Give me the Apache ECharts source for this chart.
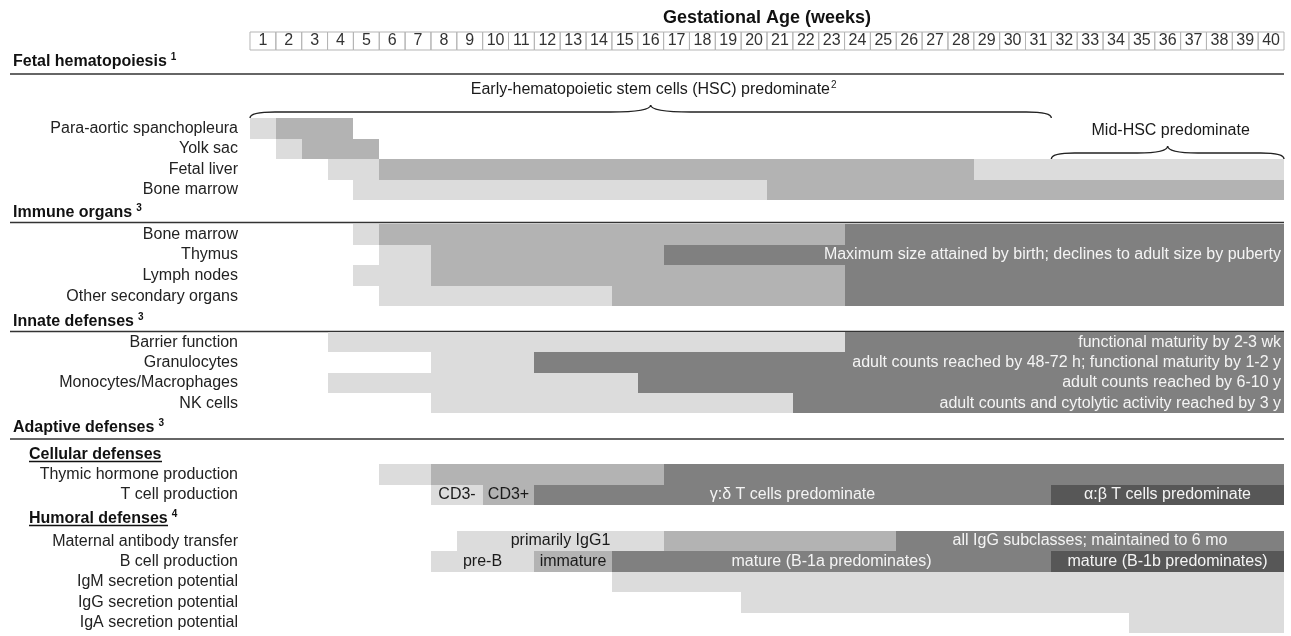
<!DOCTYPE html>
<html><head><meta charset="utf-8">
<script src="https://cdn.jsdelivr.net/npm/echarts@6/dist/echarts.min.js"></script>
<style>html,body{margin:0;padding:0;background:#fff}#c{width:1291px;height:636px}</style>
</head><body><div id="c"></div>
<script>
// ---------------- data ----------------
const weekLabels = ['1','2','3','4','5','6','7','8','9','10','11','12','13','14','15','16','17','18','19','20',
  '21','22','23','24','25','26','27','28','29','30','31','32','33','34','35','36','37','38','39','40'];

const fetalRows = [' ', '  ', 'Para-aortic spanchopleura', 'Yolk sac', 'Fetal liver', 'Bone marrow'];
const immuneRows = ['Bone marrow', 'Thymus', 'Lymph nodes', 'Other secondary organs'];
const innateRows = ['Barrier function', 'Granulocytes', 'Monocytes/Macrophages', 'NK cells'];
const cellularRows = ['Thymic hormone production', 'T cell production'];
const humoralRows = ['Maternal antibody transfer', 'B cell production', 'IgM secretion potential',
  'IgG secretion potential', 'IgA secretion potential'];

// [row, startWeek, endWeek, level(1 light .. 4 darkest), label]
const fetalSegs = [
  [2, 0, 1, 1, ''], [2, 1, 4, 2, ''],
  [3, 1, 2, 1, ''], [3, 2, 5, 2, ''],
  [4, 3, 5, 1, ''], [4, 5, 28, 2, ''], [4, 28, 40, 1, ''],
  [5, 4, 20, 1, ''], [5, 20, 40, 2, '']
];
const immuneSegs = [
  [0, 4, 5, 1, ''], [0, 5, 23, 2, ''], [0, 23, 40, 3, ''],
  [1, 5, 7, 1, ''], [1, 7, 16, 2, ''], [1, 16, 40, 3, ''],
  [2, 4, 7, 1, ''], [2, 7, 23, 2, ''], [2, 23, 40, 3, ''],
  [3, 5, 14, 1, ''], [3, 14, 23, 2, ''], [3, 23, 40, 3, '']
];
const innateSegs = [
  [0, 3, 23, 1, ''], [0, 23, 40, 3, ''],
  [1, 7, 11, 1, ''], [1, 11, 40, 3, ''],
  [2, 3, 15, 1, ''], [2, 15, 40, 3, ''],
  [3, 7, 21, 1, ''], [3, 21, 40, 3, '']
];
const cellularSegs = [
  [0, 5, 7, 1, ''], [0, 7, 16, 2, ''], [0, 16, 40, 3, ''],
  [1, 7, 9, 1, 'CD3-'], [1, 9, 11, 2, 'CD3+'], [1, 11, 31, 3, 'γ:δ T cells predominate'],
  [1, 31, 40, 4, 'α:β T cells predominate']
];
const humoralSegs = [
  [0, 8, 16, 1, 'primarily IgG1'], [0, 16, 25, 2, ''], [0, 25, 40, 3, 'all IgG subclasses; maintained to 6 mo'],
  [1, 7, 11, 1, 'pre-B'], [1, 11, 14, 2, 'immature'], [1, 14, 31, 3, 'mature (B-1a predominates)'],
  [1, 31, 40, 4, 'mature (B-1b predominates)'],
  [2, 14, 40, 1, ''], [3, 19, 40, 1, ''], [4, 34, 40, 1, '']
];

// notes written at the right end of a row: [row, text]
const immuneNotes = [[1, 'Maximum size attained by birth; declines to adult size by puberty']];
const innateNotes = [
  [0, 'functional maturity by 2-3 wk'],
  [1, 'adult counts reached by 48-72 h; functional maturity by 1-2 y'],
  [2, 'adult counts reached by 6-10 y'],
  [3, 'adult counts and cytolytic activity reached by 3 y']
];
// braces: [row, startWeek, endWeek, text, superscript]
const braces = [
  [1, 0, 31, 'Early-hematopoietic stem cells (HSC) predominate', '2'],
  [3, 31, 40, 'Mid-HSC predominate', '']
];
// section headings: [text, superscript]
const sectionTitles = [['Fetal hematopoiesis', '1'], ['Immune organs', '3'], ['Innate defenses', '3'],
  ['Adaptive defenses', '3']];
const subTitles = [['Cellular defenses', ''], ['Humoral defenses', '4']];

// ---------------- styling / layout ----------------
const FONT = 'Arial, "Liberation Sans", sans-serif';
const shade = {1: '#dcdcdc', 2: '#b3b3b3', 3: '#808080', 4: '#575757'};
const L = 250, R = 7;
const grids = [
  {top: 77, height: 123, rows: fetalRows, segs: fetalSegs, notes: []},
  {top: 224, height: 82.4, rows: immuneRows, segs: immuneSegs, notes: immuneNotes},
  {top: 332, height: 81.4, rows: innateRows, segs: innateSegs, notes: innateNotes},
  {top: 464, height: 41, rows: cellularRows, segs: cellularSegs, notes: []},
  {top: 531, height: 102, rows: humoralRows, segs: humoralSegs, notes: []}
];
const sectionY = [[62, 74], [213, 222.5], [321.5, 331.5], [428, 439]];
const subY = [[454.5, 461.5, 133], [519, 525.5, 139]];

const option = {
  backgroundColor: '#fff',
  animation: false,
  grid: grids.map(g => ({left: L, right: R, top: g.top, height: g.height, outerBoundsMode: 'none', containLabel: false})),
  xAxis: grids.map((g, i) => ({gridIndex: i, type: 'value', min: 0, max: 40, show: false})).concat([{
    gridIndex: 0, type: 'category', data: weekLabels, position: 'top', boundaryGap: true,
    axisLine: {show: false}, axisTick: {show: false}, splitLine: {show: false},
    name: 'Gestational Age (weeks)', nameLocation: 'middle', nameGap: 50,
    nameTextStyle: {fontFamily: FONT, fontSize: 18, fontWeight: 'bold', color: '#111'},
    axisLabel: {interval: 0, margin: 27, fontFamily: FONT, fontSize: 16, color: '#333',
      width: 25.85, lineHeight: 18, align: 'center', borderColor: '#b5b5b5', borderWidth: 1, padding: 0}
  }]),
  yAxis: grids.map((g, i) => ({
    gridIndex: i, type: 'category', data: g.rows, inverse: true,
    axisLine: {show: false}, axisTick: {show: false}, splitLine: {show: false},
    axisLabel: {interval: 0, margin: 12, fontFamily: FONT, fontSize: 16, color: '#222'}
  })),
  graphic: {elements: []},
  series: []
};

grids.forEach((g, gi) => {
  const segs = g.segs;
  option.series.push({
    type: 'custom', xAxisIndex: gi, yAxisIndex: gi, silent: true, z: 2,
    data: segs.map(s => [s[0], s[1], s[2], s[3]]),
    encode: {x: [1, 2], y: 0},
    renderItem: function (params, api) {
      const s = segs[params.dataIndex];
      const a = api.coord([s[1], s[0]]), b = api.coord([s[2], s[0]]);
      const h = api.size([0, 1])[1];
      const x0 = Math.round(a[0]), x1 = Math.round(b[0]);
      const y0 = Math.round(a[1] - h / 2), y1 = Math.round(a[1] + h / 2);
      const ch = [{type: 'rect', shape: {x: x0, y: y0, width: x1 - x0, height: y1 - y0}, style: {fill: shade[s[3]]}}];
      if (s[4]) ch.push({type: 'text', style: {text: s[4], x: (x0 + x1) / 2, y: (y0 + y1) / 2,
        align: 'center', verticalAlign: 'middle', fill: s[3] >= 3 ? '#f4f4f4' : '#1a1a1a',
        fontSize: 16, fontFamily: FONT}});
      return {type: 'group', children: ch};
    }
  });
  if (g.notes.length) {
    const notes = g.notes;
    option.series.push({
      type: 'custom', xAxisIndex: gi, yAxisIndex: gi, silent: true, z: 3,
      data: notes.map(n => [40, n[0]]),
      encode: {x: 0, y: 1},
      renderItem: function (params, api) {
        const n = notes[params.dataIndex];
        const p = api.coord([40, n[0]]);
        return {type: 'text', style: {text: n[1], x: p[0] - 3, y: p[1], align: 'right', verticalAlign: 'middle',
          fill: '#f4f4f4', fontSize: 16, fontFamily: FONT}};
      }
    });
  }
});

option.series.push({
  type: 'custom', xAxisIndex: 0, yAxisIndex: 0, silent: true, z: 4,
  data: braces.map(b => [b[1], b[2], b[0]]),
  encode: {x: [0, 1], y: 2},
  renderItem: function (params, api) {
    const br = braces[params.dataIndex];
    const a = api.coord([br[1], br[0]]), b = api.coord([br[2], br[0]]);
    const h = api.size([0, 1])[1];
    const yEnd = a[1] + h / 2, yFlat = yEnd - 6, yTip = yEnd - 13;
    const xL = a[0], xR = b[0], xM = (xL + xR) / 2, w = xR - xL;
    const re = Math.min(25, w * 0.1), rt = Math.min(40, w * 0.13);
    const d = 'M' + xL + ' ' + yEnd + ' Q' + xL + ' ' + yFlat + ' ' + (xL + re) + ' ' + yFlat +
      ' L' + (xM - rt) + ' ' + yFlat + ' Q' + xM + ' ' + yFlat + ' ' + xM + ' ' + yTip +
      ' Q' + xM + ' ' + yFlat + ' ' + (xM + rt) + ' ' + yFlat +
      ' L' + (xR - re) + ' ' + yFlat + ' Q' + xR + ' ' + yFlat + ' ' + xR + ' ' + yEnd;
    const txt = br[4] ? '{t|' + br[3] + '}{s|' + br[4] + '}' : '{t|' + br[3] + '}';
    return {type: 'group', children: [
      {type: 'path', shape: {pathData: d}, style: {fill: 'none', stroke: '#222', lineWidth: 1.4}},
      {type: 'text', style: {text: txt, x: xM + 3, y: a[1] - h + 2, align: 'center', verticalAlign: 'middle',
        rich: {t: {fontSize: 16, fontFamily: FONT, fill: '#1a1a1a'},
               s: {fontSize: 10, fontFamily: FONT, fill: '#1a1a1a', verticalAlign: 'top', padding: [0, 0, 8, 1]}}}}
    ]};
  }
});

const els = option.graphic.elements;
sectionTitles.forEach((t, i) => {
  els.push({type: 'text', x: 13, y: sectionY[i][0], style: {
    text: '{b|' + t[0] + '}{s|' + t[1] + '}', verticalAlign: 'middle',
    rich: {b: {fontSize: 16, fontWeight: 'bold', fontFamily: FONT, fill: '#111'},
           s: {fontSize: 10, fontWeight: 'bold', fontFamily: FONT, fill: '#111', padding: [0, 0, 9, 4]}}}});
  els.push({type: 'line', shape: {x1: 10, y1: sectionY[i][1], x2: 1284, y2: sectionY[i][1]},
    style: {stroke: '#333', lineWidth: 1.6}});
});
subTitles.forEach((t, i) => {
  els.push({type: 'text', x: 29, y: subY[i][0], style: {
    text: '{b|' + t[0] + '}' + (t[1] ? '{s|' + t[1] + '}' : ''), verticalAlign: 'middle',
    rich: {b: {fontSize: 16, fontWeight: 'bold', fontFamily: FONT, fill: '#111'},
           s: {fontSize: 10, fontWeight: 'bold', fontFamily: FONT, fill: '#111', padding: [0, 0, 9, 4]}}}});
  els.push({type: 'line', shape: {x1: 29, y1: subY[i][1], x2: 29 + subY[i][2], y2: subY[i][1]},
    style: {stroke: '#111', lineWidth: 1.3}});
});

const chart = echarts.init(document.getElementById('c'), null, {renderer: 'canvas'});
chart.setOption(option);
</script>
</body></html>
